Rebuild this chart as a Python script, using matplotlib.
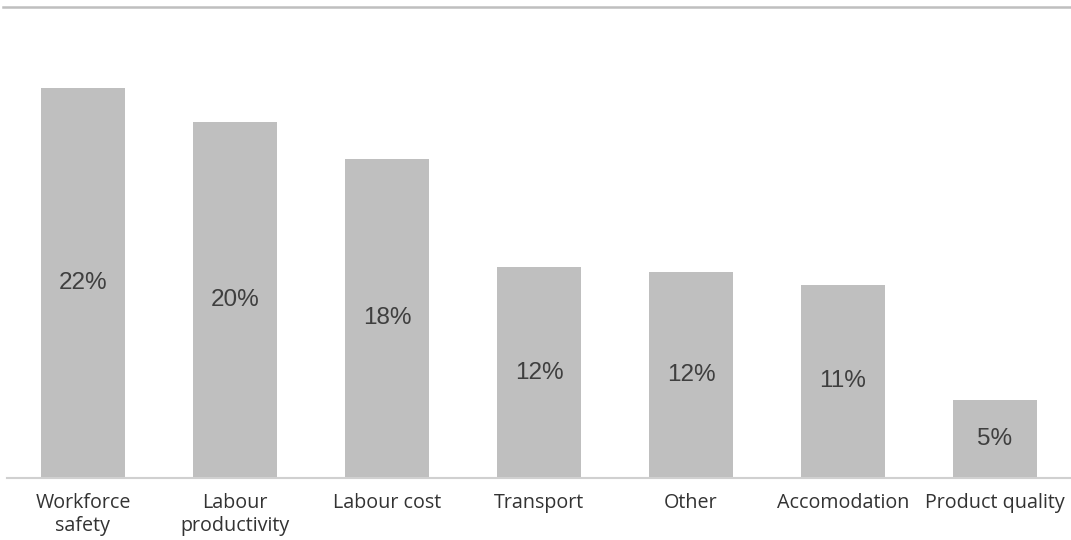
import matplotlib
matplotlib.use("Agg")
import matplotlib.pyplot as plt

categories = ["Workforce\nsafety", "Labour\nproductivity", "Labour cost", "Transport",
              "Other", "Accomodation", "Product quality"]
values = [22.0, 20.1, 18.0, 11.9, 11.6, 10.9, 4.4]
value_labels = ["22%", "20%", "18%", "12%", "12%", "11%", "5%"]

fig = plt.figure(figsize=(10.71, 5.40), dpi=100)
ax = fig.add_axes([7 / 1071, 62 / 540, 1 - 7 / 1071, 471 / 540])

x = list(range(len(categories)))
bars = ax.bar(x, values, width=0.553, color="#bfbfbf", edgecolor="none")

for xi, v, lab in zip(x, values, value_labels):
    ax.text(xi, v / 2, lab, ha="center", va="center", fontsize=17.5,
            family="Liberation Sans", color="#3f3f3f")

ax.set_xlim(-0.5, 6.5)
ax.set_ylim(0, 26.57)
ax.set_xticks(x)
ax.set_xticklabels(categories, fontsize=14.2, family="Open Sans", color="#333333",
                   linespacing=1.15)
ax.tick_params(axis="x", length=0, pad=11)
ax.set_yticks([])
for s in ["left", "right"]:
    ax.spines[s].set_visible(False)
ax.spines["bottom"].set_color("#d0d0d0")
ax.spines["bottom"].set_linewidth(1.5)
ax.spines["top"].set_visible(False)

fig.add_artist(plt.Line2D([3 / 1071, 1.0], [533 / 540, 533 / 540], color="#bfbfbf",
                          linewidth=1.8, transform=fig.transFigure))

fig.savefig("out.png", dpi=100, facecolor="white")
